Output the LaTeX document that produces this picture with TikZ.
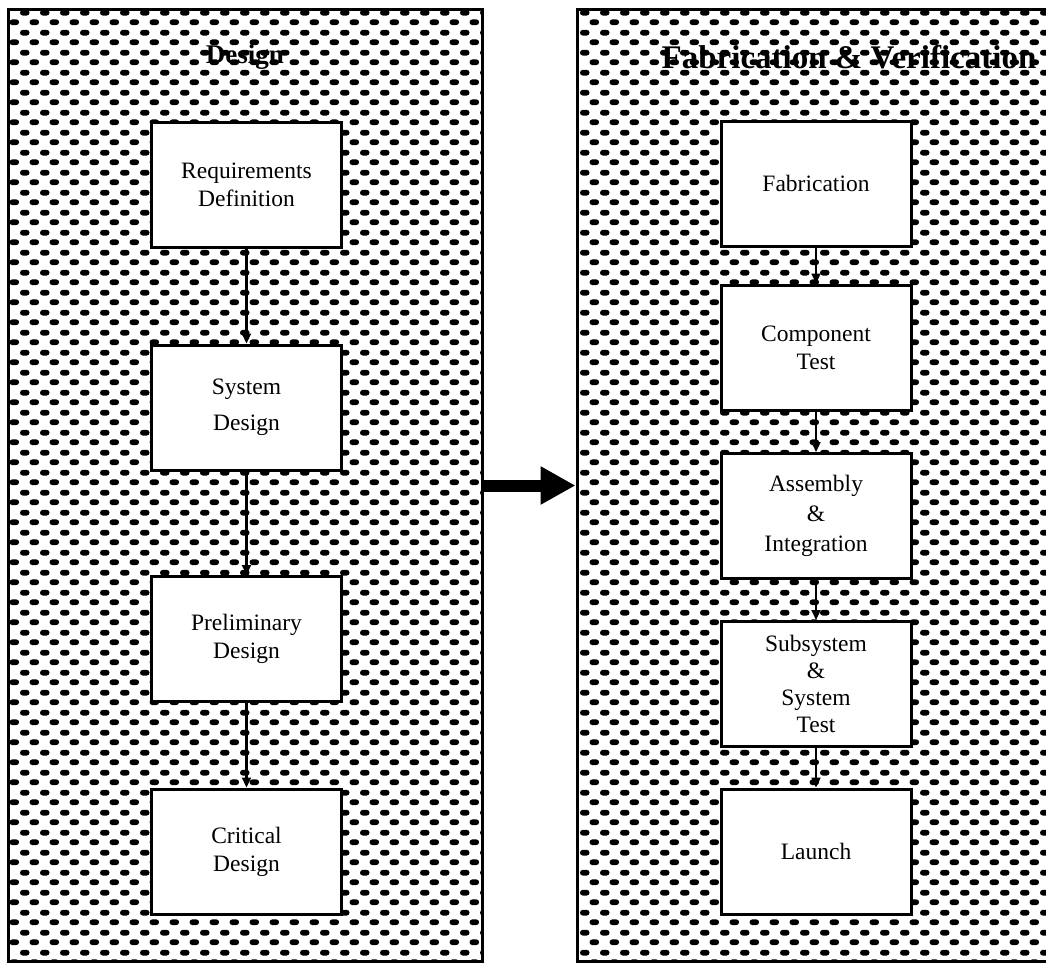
\documentclass[tikz,border=0pt]{standalone}
\usepackage{fontspec}
\setmainfont{Liberation Serif}
\usetikzlibrary{arrows.meta,patterns.meta}

% staggered rows of short rounded dashes used as the panel background
\pgfdeclarepattern{
  name=dashrows,
  type=uncolored,
  bottom left={\pgfpoint{0pt}{0pt}},
  top right={\pgfpoint{20pt}{20pt}},
  tile size={\pgfpoint{20pt}{20pt}},
  code={
    \pgfsetroundcap
    \pgfsetlinewidth{6pt}
    \pgfpathmoveto{\pgfpoint{3pt}{15pt}}\pgfpathlineto{\pgfpoint{7pt}{15pt}}
    \pgfpathmoveto{\pgfpoint{13pt}{5pt}}\pgfpathlineto{\pgfpoint{17pt}{5pt}}
    \pgfusepath{stroke}
  }
}

\tikzset{
  panel/.style={draw, line width=3pt, pattern=dashrows, inner sep=0pt,
    minimum width=474pt, minimum height=951pt},
  phase/.style={font=\bfseries\fontsize{27}{30}\selectfont, inner sep=0pt},
  stage/.style={draw, line width=3pt, fill=white, align=center,
    minimum width=190pt, minimum height=125pt, inner sep=2pt,
    font=\fontsize{23.5}{28}\selectfont},
  flow/.style={line width=2.2pt, -{Triangle[length=10pt,width=9pt]}},
  handoff/.style={line width=12pt, -{Triangle[length=35pt,width=36pt]}}
}

\begin{document}
\begin{tikzpicture}[x=1pt,y=-1pt]
  \useasboundingbox (0,0) rectangle (1046,966);
  \clip (0,0) rectangle (1046,966);

  % the two phase panels
  \node[panel] (design) at (245,485.5) {};
  \node[panel] (fabver) at (814,485.5) {};

  \node[phase] (designtitle) at (245,57) {Design};
  \node[phase, font=\bfseries\fontsize{33}{36}\selectfont] (fabtitle) at (849,57) {Fabrication \& Verification};

  % design stages
  \node[stage] (req)  at (246.5,184.5) {Requirements\\Definition};
  \node[stage] (sys)  at (246.5,407.5) {System\\[8pt]Design};
  \node[stage] (pre)  at (246.5,639)   {Preliminary\\Design};
  \node[stage] (crit) at (246.5,851.5) {Critical\\Design};

  % fabrication and verification stages
  \node[stage] (fab)  at (816,183.5) {Fabrication};
  \node[stage] (comp) at (816,347.5) {Component\\Test};
  \node[stage, font=\fontsize{23.5}{30}\selectfont] (asm) at (816,516) {Assembly\\\&\\Integration};
  \node[stage, font=\fontsize{23.5}{27}\selectfont] (sst) at (816,684) {Subsystem\\\&\\System\\Test};
  \node[stage] (launch) at (816,851.5) {Launch};

  % flow between stages
  \draw[flow] (req) -- (sys);
  \draw[flow] (sys) -- (pre);
  \draw[flow] (pre) -- (crit);
  \draw[flow] (fab) -- (comp);
  \draw[flow] (comp) -- (asm);
  \draw[flow] (asm) -- (sst);
  \draw[flow] (sst) -- (launch);

  % hand-off from design to fabrication
  \draw[handoff] (design.east) -- (fabver.west);
\end{tikzpicture}
\end{document}
